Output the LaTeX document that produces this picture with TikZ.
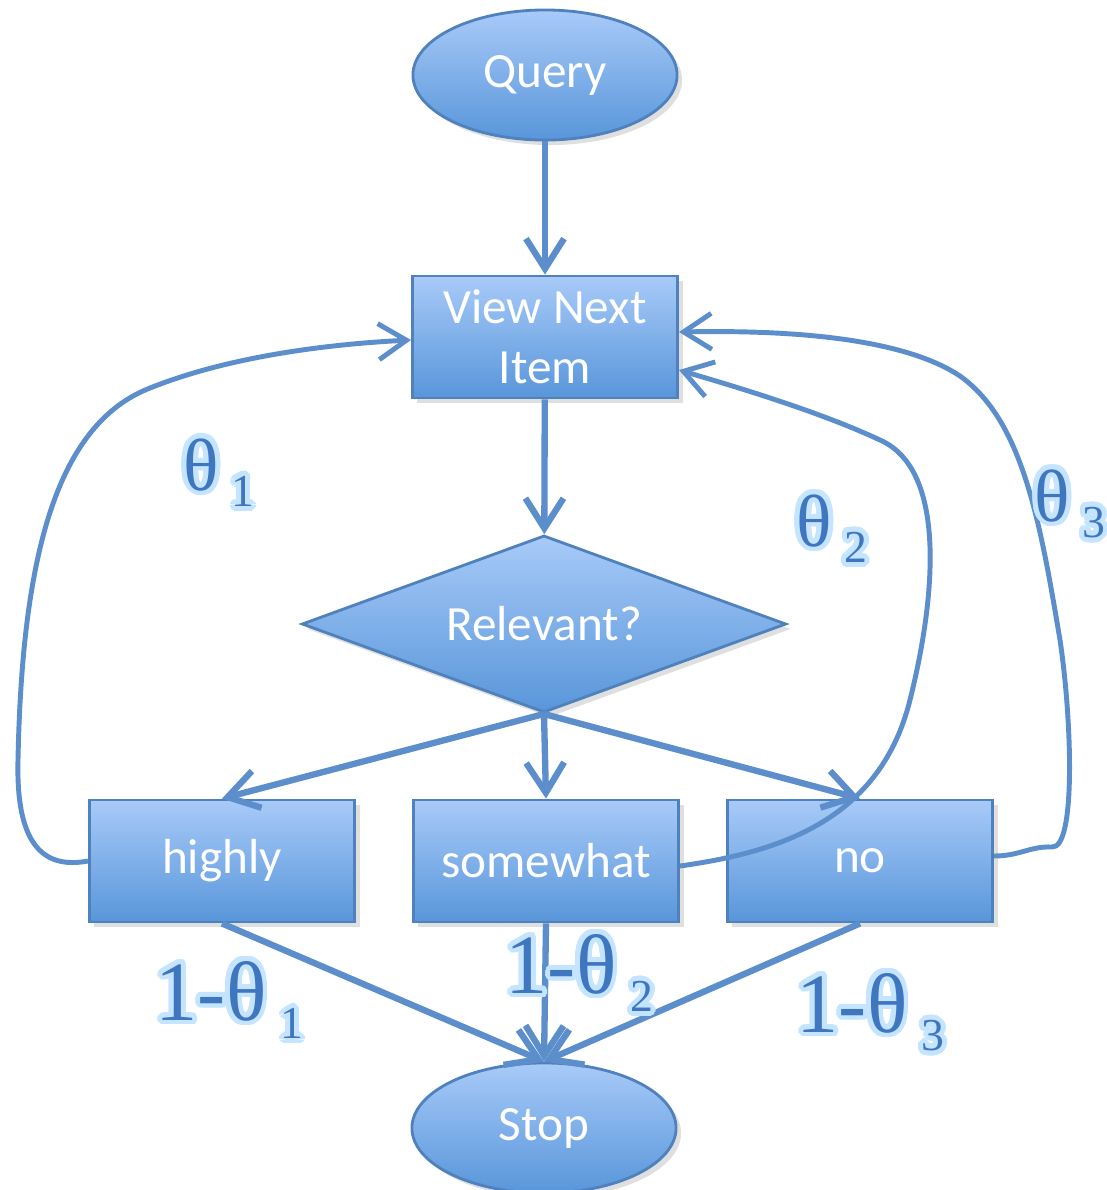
\documentclass[tikz,border=0pt]{standalone}
\usepackage{fontspec}
\setmainfont{Carlito}
\newfontfamily\thetafont{Liberation Serif}
\usepackage[copies]{contour}
\contourlength{1.4pt}
\contournumber{24}
\usetikzlibrary{shapes.geometric,arrows.meta,shadows}
\definecolor{boxtop}{RGB}{168,202,248}
\definecolor{boxbot}{RGB}{88,150,218}
\definecolor{boxline}{RGB}{79,129,189}
\definecolor{flowblue}{RGB}{92,142,204}
\definecolor{greek}{RGB}{62,118,192}
\definecolor{halo}{RGB}{196,228,255}
% theta label: big symbol, then lowered subscript
\newcommand{\thlabel}[3]{{\thetafont\fontsize{#3}{#3}\selectfont\contour{halo}{#1}\,\raisebox{-0.22em}{\fontsize{13}{13}\selectfont\contour{halo}{#2}}}}
\begin{document}
\begin{tikzpicture}[x=0.01cm,y=-0.01cm]
	\tikzstyle{grad}=[top color=boxtop,bottom color=boxbot,draw=boxline,line width=0.8pt,text=white,font=\fontsize{14}{17}\selectfont,drop shadow={opacity=0.25,shadow xshift=0.05cm,shadow yshift=-0.05cm}]
	\tikzstyle{box}=[grad,rectangle,minimum width=2.65cm,minimum height=1.22cm,inner sep=0pt,align=center]
	\tikzstyle{oval}=[grad,ellipse,minimum width=2.64cm,minimum height=1.3cm,inner sep=0pt]
	\tikzstyle{decide}=[grad,diamond,aspect=2.7,minimum width=4.84cm,minimum height=1.77cm,inner sep=0pt]
	\tikzstyle{flow}=[draw=flowblue,line width=1.8pt,-{Straight Barb[length=0.3cm,width=0.38cm]}]
	\tikzstyle{loop}=[draw=flowblue,line width=1.4pt,-{Straight Barb[length=0.28cm,width=0.36cm]}]
	\tikzstyle{lbl}=[anchor=base west,inner sep=0pt,text=greek]
	\useasboundingbox (0,0) rectangle (1107,1190);
	
	\node[oval] (query) at (545,75) {Query};
	\node[box] (view) at (545,337) {View Next\\Item};
	\node[decide] (rel) at (544,624) {Relevant?};
	\node[box] (highly) at (222,861) {highly};
	\node[box] (somewhat) at (546,861) {somewhat};
	\node[box] (nobox) at (860,861) {no};
	\node[oval] (stop) at (544,1128) {Stop};
	
	\path
	(query) edge[flow] (view)
	(view) edge[flow] (rel)
	(rel.south) edge[flow] (highly.north)
	(rel.south) edge[flow] (somewhat.north)
	(rel.south) edge[flow] (nobox.north)
	(highly.south) edge[flow] (stop.north)
	(somewhat.south) edge[flow] (stop.north)
	(nobox.south) edge[flow] (stop.north)
	;
	
	% feedback loops
	\draw[loop] (highly.west) .. controls (40,870) and (16,840) .. (18,760)
		.. controls (22,560) and (55,425) .. (150,388)
		.. controls (230,356) and (330,344) .. ([yshift=-0.03cm]view.west);
	\draw[loop] ([yshift=-0.05cm]somewhat.east) .. controls (780,852) and (880,820) .. (910,700)
		.. controls (935,600) and (948,470) .. (880,440)
		.. controls (820,412) and (740,388) .. ([yshift=-0.33cm]view.east);
	\draw[loop] ([yshift=0.05cm]nobox.east) .. controls (1020,856) and (1030,846) .. (1052,847)
		.. controls (1076,849) and (1072,720) .. (1060,640)
		.. controls (1040,520) and (1022,420) .. (960,376)
		.. controls (900,336) and (780,330) .. ([yshift=0.05cm]view.east);
	
	\node[lbl] (t1) at (183,490) {\thlabel{θ}{1}{21}};
	\node[lbl] (t2) at (796,546) {\thlabel{θ}{2}{21}};
	\node[lbl] (t3) at (1034,521) {\thlabel{θ}{3}{21}};
	\node[lbl] (u1) at (155,1020) {\thlabel{1-θ}{1}{24}};
	\node[lbl] (u2) at (505,993) {\thlabel{1-θ}{2}{24}};
	\node[lbl] (u3) at (796,1032) {\thlabel{1-θ}{3}{24}};
\end{tikzpicture}
\end{document}
